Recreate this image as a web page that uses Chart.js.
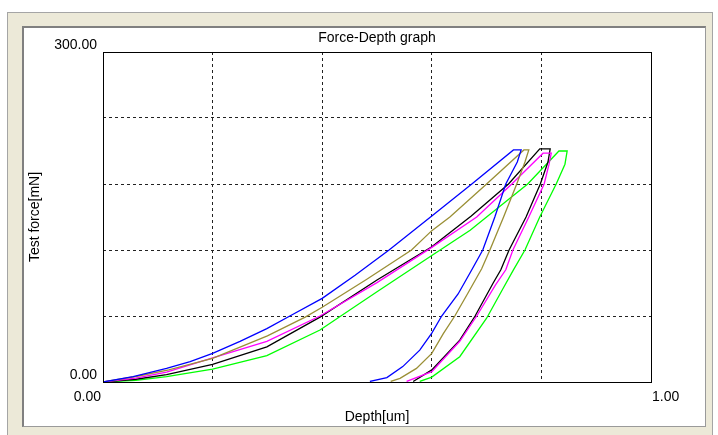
<!DOCTYPE html>
<html lang="en">
<head>
    <meta charset="UTF-8">
    <title>Force-Depth graph</title>
    <script src="https://cdn.jsdelivr.net/npm/chart.js"></script>
    <style>
        body {
            margin: 0;
            background: #fff;
        }
        .outer {
            position: absolute;
            left: 7px;
            top: 12px;
            width: 706px;
            height: 430px;
            box-sizing: border-box;
            background: #ece9d8;
            border: 1px solid #a5a5a5;
        }
        .panel {
            position: absolute;
            left: 22px;
            top: 26px;
            width: 684px;
            height: 401px;
            box-sizing: border-box;
            background: #fff;
            border: 1px solid #9a9a9a;
            border-top: 2px solid #808080;
            border-left: 2px solid #808080;
        }
        canvas {
            position: absolute;
            left: 0;
            top: 0;
        }
    </style>
</head>
<body>
    <div class="outer"></div>
    <div class="panel"></div>
    <canvas id="graph" width="718" height="435"></canvas>

    <script>
        const chartTitle = 'Force-Depth graph';
        const xTitle = 'Depth[um]';
        const yTitle = 'Test force[mN]';
        const xLabels = [0, 1];
        const yLabels = [0, 300];

        // loading -> hold -> unloading, depth in um, force in mN
        const blueDepth = [0, 0.055, 0.116, 0.159, 0.2, 0.25, 0.299, 0.341, 0.4, 0.46, 0.522, 0.6, 0.673, 0.749, 0.763, 0.756, 0.735, 0.715, 0.693, 0.673, 0.648, 0.618, 0.6, 0.578, 0.547, 0.518, 0.487];
        const blueForce = [0, 4.8, 12.4, 18.5, 26, 37, 48.5, 60, 76, 97, 120, 151, 180, 211, 211, 200, 180, 150, 120, 102, 80, 60, 44.5, 29, 14, 4, 0.5];

        const oliveDepth = [0, 0.06, 0.12, 0.2, 0.3, 0.369, 0.4, 0.48, 0.563, 0.6, 0.633, 0.7, 0.768, 0.777, 0.77, 0.755, 0.731, 0.706, 0.691, 0.665, 0.642, 0.621, 0.6, 0.572, 0.542, 0.525];
        const oliveForce = [0, 5, 11, 21.5, 42, 59, 68, 93, 120, 137.6, 150, 180, 211, 211, 200, 180, 150, 120, 103, 80, 60, 44, 26, 12.4, 3.3, 0.5];

        const blackDepth = [0, 0.06, 0.116, 0.2, 0.299, 0.396, 0.5, 0.6, 0.672, 0.74, 0.797, 0.816, 0.812, 0.798, 0.772, 0.741, 0.726, 0.712, 0.679, 0.651, 0.6, 0.566];
        const blackForce = [0, 2.5, 6.7, 16, 32, 59, 92.7, 123, 151, 180, 212, 212, 200, 180, 150, 120, 102, 90, 60, 38, 11, 0.5];

        const magentaDepth = [0, 0.06, 0.116, 0.2, 0.299, 0.396, 0.5, 0.6, 0.682, 0.746, 0.803, 0.818, 0.814, 0.805, 0.777, 0.748, 0.735, 0.716, 0.682, 0.651, 0.6, 0.554];
        const magentaForce = [0, 3.5, 9, 22, 37, 60, 90.3, 122.4, 150, 180, 208, 208, 198, 180, 150, 120, 102, 88, 60, 37, 9.4, 0.5];

        const greenDepth = [0, 0.06, 0.116, 0.2, 0.299, 0.396, 0.5, 0.6, 0.67, 0.7, 0.775, 0.832, 0.847, 0.843, 0.827, 0.797, 0.77, 0.749, 0.73, 0.7, 0.651, 0.6, 0.578];
        const greenForce = [0, 1.5, 4.8, 11.8, 24, 47.3, 82, 115, 138, 150, 180, 210, 210, 198, 180, 150, 120, 102, 85, 58, 23, 4.5, 0.5];

        function pts(xs, ys) {
            return xs.map((v, i) => ({ x: v, y: ys[i] }));
        }

        function curve(xs, ys, color) {
            return {
                data: pts(xs, ys),
                showLine: true,
                borderColor: color,
                borderWidth: 1.3,
                pointRadius: 0,
                fill: false,
                tension: 0
            };
        }

        const fontStr = '14px "Liberation Sans", Arial, sans-serif';

        // frame, axis labels and titles at the spots the original software puts them
        const framePlugin = {
            id: 'framePlugin',
            afterDatasetsDraw(chart) {
                const ctx = chart.ctx;
                const a = chart.chartArea;
                const xs = chart.scales.x;
                const ys = chart.scales.y;
                ctx.save();
                ctx.strokeStyle = '#000';
                ctx.lineWidth = 1;
                ctx.setLineDash([]);
                ctx.strokeRect(a.left + 0.5, a.top + 0.5, a.right - a.left, a.bottom - a.top);

                ctx.fillStyle = '#000';
                ctx.font = fontStr;
                ctx.textBaseline = 'middle';
                ctx.textAlign = 'center';
                const cx = (a.left + a.right) / 2;
                ctx.fillText(chartTitle, cx, a.top - 14);
                ctx.fillText(xTitle, cx, a.bottom + 35);

                ctx.textAlign = 'right';
                yLabels.forEach(v => {
                    ctx.fillText(v.toFixed(2), a.left - 6, ys.getPixelForValue(v) - 7);
                });

                ctx.textAlign = 'right';
                ctx.fillText(xLabels[0].toFixed(2), xs.getPixelForValue(xLabels[0]) - 2, a.bottom + 15);
                ctx.textAlign = 'left';
                ctx.fillText(xLabels[1].toFixed(2), xs.getPixelForValue(xLabels[1]) + 1, a.bottom + 15);

                ctx.translate(35, (a.top + a.bottom) / 2);
                ctx.rotate(-Math.PI / 2);
                ctx.textAlign = 'center';
                ctx.fillText(yTitle, 0, 0);
                ctx.restore();
            }
        };

        const ctx = document.getElementById('graph').getContext('2d');
        new Chart(ctx, {
            type: 'scatter',
            data: {
                datasets: [
                    curve(blueDepth, blueForce, '#0000ff'),
                    curve(oliveDepth, oliveForce, '#9a8f35'),
                    curve(magentaDepth, magentaForce, '#ff00ff'),
                    curve(blackDepth, blackForce, '#000000'),
                    curve(greenDepth, greenForce, '#00ff00')
                ]
            },
            options: {
                responsive: false,
                animation: false,
                layout: {
                    padding: { left: 103, top: 52, right: 67, bottom: 53 }
                },
                plugins: {
                    legend: { display: false },
                    tooltip: { enabled: false }
                },
                scales: {
                    x: {
                        type: 'linear',
                        min: 0,
                        max: 1,
                        ticks: { display: false, stepSize: 0.2 },
                        grid: { color: '#222', lineWidth: 1, drawTicks: false },
                        border: { display: false, dash: [3, 3] }
                    },
                    y: {
                        type: 'linear',
                        min: 0,
                        max: 300,
                        ticks: { display: false, stepSize: 60 },
                        grid: { color: '#222', lineWidth: 1, drawTicks: false },
                        border: { display: false, dash: [3, 3] }
                    }
                }
            },
            plugins: [framePlugin]
        });
    </script>
</body>
</html>
